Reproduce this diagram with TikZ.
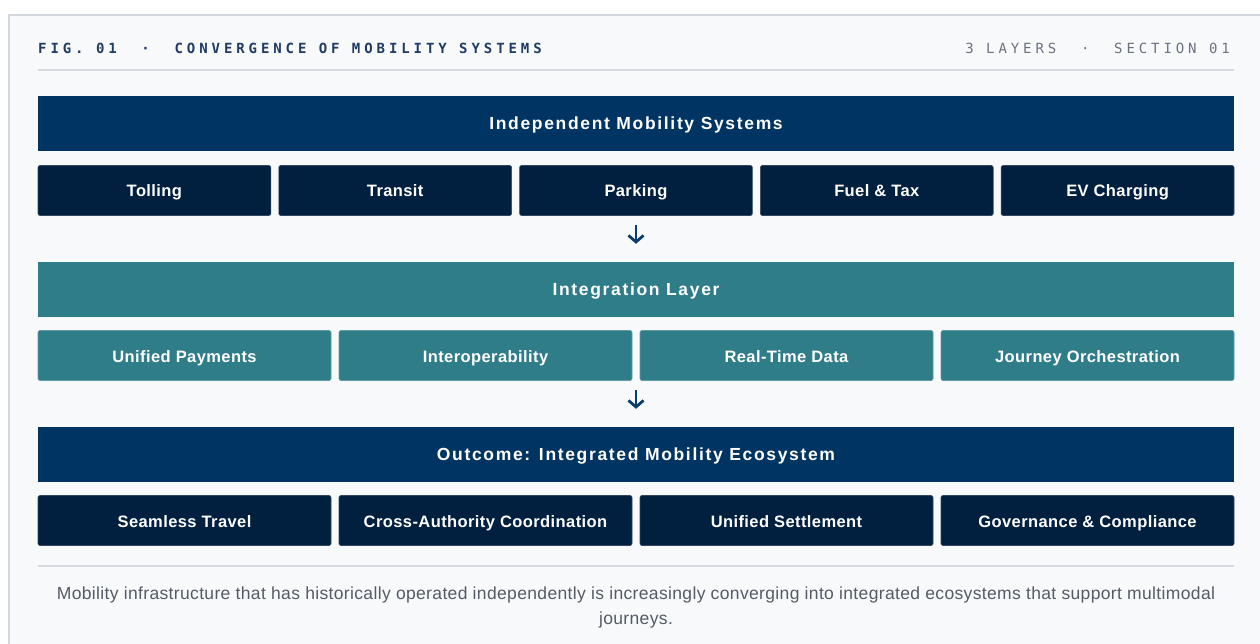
\documentclass[tikz,border=0pt]{standalone}
\usepackage{fontspec}
\setmainfont{Liberation Sans}
\newfontfamily\figmono{DejaVu Sans Mono}[LetterSpace=28]
\newfontfamily\barfont{Liberation Sans}[LetterSpace=9.5]
\newfontfamily\cellfont{Liberation Sans}[LetterSpace=2.5]
\newfontfamily\notefont{Liberation Sans}[LetterSpace=2]
\usetikzlibrary{calc,arrows.meta}
\definecolor{pagebg}{HTML}{F7F9FB}
\definecolor{framegray}{HTML}{D3D7DE}
\definecolor{rulegray}{HTML}{D5D9E0}
\definecolor{barblue}{HTML}{003463}
\definecolor{boxnavy}{HTML}{011F3F}
\definecolor{boxedge}{HTML}{33475F}
\definecolor{tealbar}{HTML}{2F7D88}
\definecolor{tealedge}{HTML}{5E9DA6}
\definecolor{titleblue}{HTML}{1F3B66}
\definecolor{metagray}{HTML}{6B7280}
\definecolor{captiongray}{HTML}{555B66}
\definecolor{arrowblue}{HTML}{0B3C6E}
\tikzset{
    layerbar/.style={
        fill=#1, text=white, inner sep=0pt,
        minimum width=1196pt, minimum height=55pt,
        text height=13pt, text depth=1pt,
        font=\barfont\bfseries\fontsize{17.5}{20}\selectfont
    },
    cellbox/.style={
        rounded corners=2pt, inner sep=0pt, text=white,
        minimum height=50pt, text height=14pt, text depth=1pt,
        font=\cellfont\bfseries\fontsize{16.5}{19}\selectfont
    },
    navycell/.style={cellbox, fill=boxnavy, draw=boxedge, line width=0.6pt},
    tealcell/.style={cellbox, fill=tealbar, draw=tealedge, line width=0.6pt},
    flowarrow/.style={
        draw=arrowblue, line width=2.8pt,
        -{Straight Barb[length=6.5pt,width=15pt]}
    },
    hrule/.style={draw=rulegray, line width=1.2pt},
}
\begin{document}
\begin{tikzpicture}[x=1pt,y=-1pt]
    \useasboundingbox (0,0) rectangle (1260,644);
    \fill[white] (0,0) rectangle (1260,644);
    \draw[framegray, line width=2pt, fill=pagebg] (9,15) rectangle (1275,660);

    % heading
    \node[anchor=base west, inner sep=0pt, text=titleblue,
          font=\figmono\bfseries\fontsize{14}{16}\selectfont]
        (figtitle) at (38,54) {FIG.~01~~·~~CONVERGENCE~OF~MOBILITY~SYSTEMS};
    \node[anchor=base east, inner sep=0pt, text=metagray,
          font=\figmono\fontsize{14}{16}\selectfont]
        (figmeta) at (1230,54) {3~LAYERS~~·~~SECTION~01};
    \coordinate (toprule-l) at (38,70);
    \coordinate (toprule-r) at (1234,70);
    \draw[hrule] (toprule-l) -- (toprule-r);

    % layer 1
    \node[layerbar=barblue] (indep) at (636,123.5) {Independent Mobility Systems};
    \foreach \lbl [count=\i from 0] in {Tolling, Transit, Parking, Fuel \& Tax, EV Charging}
        \node[navycell, minimum width=232.8pt] (sys\i) at ({154.4+\i*240.8},190.5) {\lbl};

    % layer 2
    \node[layerbar=tealbar] (integ) at (636,289.5) {Integration Layer};
    \foreach \lbl [count=\i from 0] in {Unified Payments, Interoperability, Real-Time Data, Journey Orchestration}
        \node[tealcell, minimum width=293pt] (int\i) at ({184.5+\i*301},355.5) {\lbl};

    % layer 3
    \node[layerbar=barblue] (outcome) at (636,454.5) {Outcome: Integrated Mobility Ecosystem};
    \foreach \lbl [count=\i from 0] in {Seamless Travel, Cross-Authority Coordination, Unified Settlement, Governance \& Compliance}
        \node[navycell, minimum width=293pt] (out\i) at ({184.5+\i*301},520.5) {\lbl};

    % arrows between layers
    \draw[flowarrow] ($(indep.south)+(0,74)$) -- ($(integ.north)+(0,-18)$);
    \draw[flowarrow] ($(integ.south)+(0,73)$) -- ($(outcome.north)+(0,-18)$);

    % caption
    \coordinate (botrule-l) at (38,566);
    \coordinate (botrule-r) at (1234,566);
    \draw[hrule] (botrule-l) -- (botrule-r);
    \node[align=center, inner sep=0pt, text=captiongray,
          font=\notefont\fontsize{17.5}{25}\selectfont]
        (caption) at (636,607) {Mobility infrastructure that has historically operated independently is increasingly converging into integrated ecosystems that support multimodal\\journeys.};
\end{tikzpicture}
\end{document}
